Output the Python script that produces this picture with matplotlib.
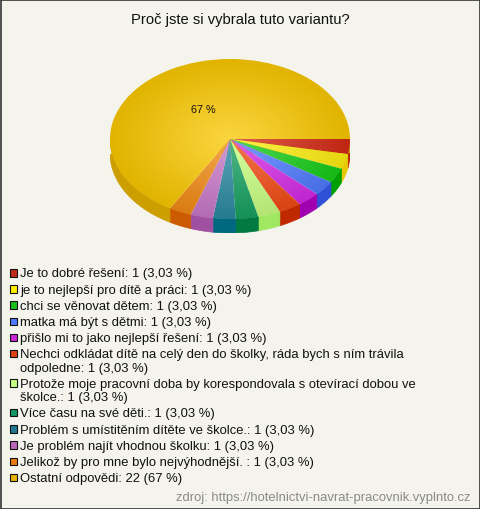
import textwrap
import numpy as np
import matplotlib
matplotlib.use("Agg")
import matplotlib.pyplot as plt
from matplotlib.patches import Rectangle, Polygon
import matplotlib.colors as mcolors

plt.rcParams['font.family'] = ['Liberation Sans', 'DejaVu Sans']

title = "Proč jste si vybrala tuto variantu?"
labels = [
    "Je to dobré řešení",
    "je to nejlepší pro dítě a práci",
    "chci se věnovat dětem",
    "matka má být s dětmi",
    "přišlo mi to jako nejlepší řešení",
    "Nechci odkládat dítě na celý den do školky, ráda bych s ním trávila odpoledne",
    "Protože moje pracovní doba by korespondovala s otevírací dobou ve školce.",
    "Více času na své děti.",
    "Problém s umístitěním dítěte ve školce.",
    "Je problém najít vhodnou školku",
    "Jelikož by pro mne bylo nejvýhodnější. ",
    "Ostatní odpovědi",
]
counts = [1, 1, 1, 1, 1, 1, 1, 1, 1, 1, 1, 22]
percents = ["3,03 %"] * 11 + ["67 %"]
pie_label = "67 %"
colors = ["#D42A14", "#FFEE10", "#18CC18", "#4F7BFF", "#D42AE6", "#F24A14",
          "#C8FF80", "#16A060", "#2A88A0", "#C878C8", "#F28A14", "#FAC800"]
side_colors = ["#B01400", "#E6C800", "#00A000", "#3050D8", "#A000B0", "#C02800",
               "#A0E860", "#007A40", "#006880", "#A050A0", "#CC5A00", "#CC9E00"]
legend_colors = ["#C0281A", "#FFEE00", "#18C018", "#4F78FF", "#C828D8", "#E04010",
                 "#C8FF80", "#109860", "#207890", "#B868B8", "#E87A10", "#E8B400"]
source = "zdroj: https://hotelnictvi-navrat-pracovnik.vyplnto.cz"

W, H = 480, 510
fig = plt.figure(figsize=(4.8, 5.1), dpi=100)
fig.patch.set_facecolor('#F4F3EC')
bg = fig.add_axes([0, 0, 1, 1])
bg.set_xlim(0, W)
bg.set_ylim(H, 0)
bg.axis('off')
bg.add_patch(Rectangle((0.5, 0.5), W - 1, H - 1, fill=False, ec='#333333', lw=1.2))

bg.text(240, 20, title, ha='center', va='center', fontsize=10.6, color='#111111')

# pie
cx, cy, rx, ry, depth = 230, 140, 120, 80, 14
d = depth / ry
axp = fig.add_axes([(cx - rx) / W, 1 - (cy + ry + depth) / H, 2 * rx / W, (2 * ry + depth) / H])
wedges, _ = axp.pie(counts, startangle=0, counterclock=False, colors=colors,
                    wedgeprops=dict(lw=0))
axp.axis('off')

n = 300
yy, xx = np.mgrid[1:-1:n * 1j, -1:1:n * 1j]
rr = np.clip(np.hypot(xx, yy), 0, 1)[..., None]
for w, c, sc in zip(wedges, colors, side_colors):
    base = np.array(mcolors.to_rgb(c))
    center = base + (1 - base) * 0.25
    edge = base * 0.9
    img = center * (1 - rr) + edge * rr
    w.set_facecolor('none')
    im = axp.imshow(img, extent=[-1, 1, -1, 1], zorder=3, interpolation='bilinear', aspect='auto')
    im.set_clip_path(w)
    # side face
    th = np.radians(np.linspace(w.theta1, w.theta2, 200))
    m = np.sin(th) <= 1e-9
    if m.sum() > 1:
        t = th[m]
        top = np.column_stack([np.cos(t), np.sin(t)])
        bot = np.column_stack([np.cos(t[::-1]), np.sin(t[::-1]) - d])
        axp.add_patch(Polygon(np.vstack([top, bot]), closed=True, fc=sc, ec=sc, lw=0.5, zorder=1))
axp.set_aspect('auto')
axp.set_xlim(-1, 1)
axp.set_ylim(-1 - d, 1)

big = int(np.argmax(counts))
wb = wedges[big]
mid = np.radians((wb.theta1 + wb.theta2) / 2)
axp.text(0.44 * np.cos(mid), 0.44 * np.sin(mid), pie_label, ha='center', va='center',
         fontsize=7.8, color='#111111', zorder=5)

# legend
y = 274.5
lh = 13.3
gap = 2.9
for lab, cnt, pc, lc in zip(labels, counts, percents, legend_colors):
    text = f"{lab}: {cnt} ({pc})"
    lines = textwrap.wrap(text, width=70) if len(text) > 70 else [text]
    bg.add_patch(Rectangle((9.5, y - 4.5), 7.5, 7.5, fc=lc, ec='#111111', lw=0.8))
    for i, ln in enumerate(lines):
        bg.text(20, y + i * lh, ln, ha='left', va='center', fontsize=9.4, color='#111111')
    y += len(lines) * lh + gap

bg.text(470, 498, source, ha='right', va='center', fontsize=9.4, color='#8A8A8A')

fig.savefig('out.png', dpi=100, facecolor=fig.get_facecolor())
